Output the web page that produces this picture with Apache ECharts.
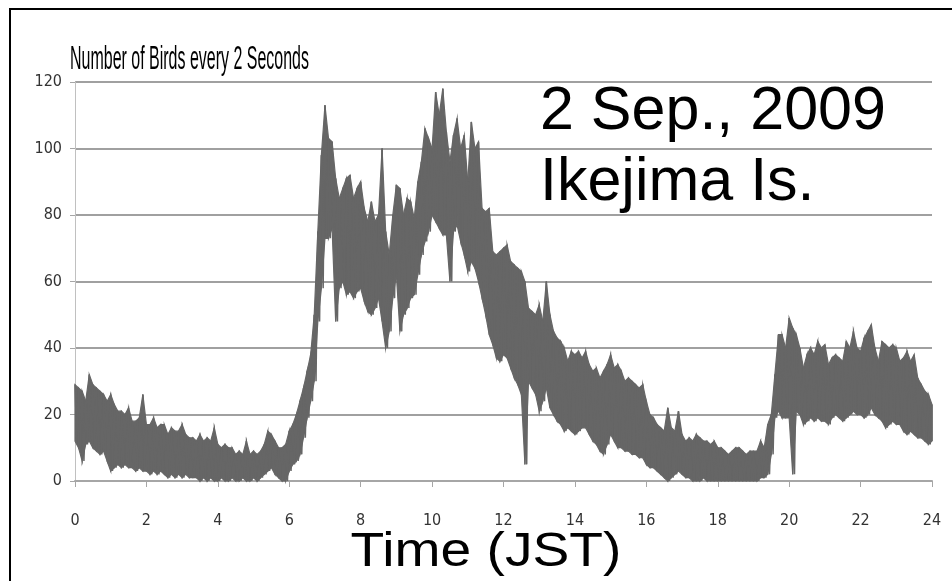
<!DOCTYPE html>
<html>
<head>
<meta charset="utf-8">
<script src="https://cdn.jsdelivr.net/npm/echarts@6/dist/echarts.min.js"></script>
<style>html,body{margin:0;padding:0;background:#fff;}#c{width:952px;height:581px;}</style>
</head>
<body>
<div id="c"></div>
<script>
// Sample times: every 0.1 h from 0 to 24 (upper & lower envelope)
const stepHours = 0.1;
const hiValues = [
  29,28,27,24,32,29,28,27,26,24,26,
  23,21,21,20,22,18,18,19,26,17,
  17,19,16,17,17,14,16,15,15,17,
  14,13,13,12,14,12,13,12,16,11,
  10,11,10,10,8,9,8,12,8,9,
  8,9,11,15,14,12,10,10,11,15,
  17,20,24,28,33,38,50,75,98,113,
  103,102,91,85,88,91,92,85,88,90,
  82,78,84,78,80,100,75,68,80,89,
  88,80,85,84,79,90,96,106,103,100,
  117,110,118,105,96,104,109,100,104,90,
  108,100,102,82,81,82,69,68,69,70,
  71,66,65,64,63,60,52,51,50,53,
  48,60,50,45,43,42,40,36,39,38,
  39,37,39,35,33,34,31,33,35,38,
  34,35,33,30,31,30,29,28,29,24,
  20,19,17,16,15,22,16,15,21,14,
  12,13,12,14,13,12,12,11,12,10,
  10,9,8,9,10,10,9,8,9,9,
  9,12,10,17,20,32,44,44,40,49,
  46,44,40,34,38,40,38,42,40,41,
  35,37,38,37,36,42,40,45,40,39,
  43,45,47,40,36,42,41,40,41,40,
  36,37,39,36,38,31,29,27,26,23
];
const loValues = [
  12,10,6,11,12,10,9,8,9,6,3,
  4,5,4,5,4,4,3,4,3,3,
  2,3,2,3,2,1,2,1,2,1,
  2,1,1,1,0,1,0,1,0,0,
  1,0,0,1,0,0,1,0,0,1,
  0,1,2,3,4,2,1,0,0,3,
  5,6,8,13,19,24,30,48,58,73,
  73,76,48,58,60,56,57,55,57,58,
  54,51,50,52,55,48,40,45,55,62,
  45,50,52,55,56,62,68,72,75,80,
  78,76,74,74,60,75,77,72,68,63,
  66,64,60,55,50,44,41,37,36,38,
  37,34,31,29,26,5,30,28,26,21,
  24,28,22,20,18,17,15,16,15,14,
  15,16,16,14,12,11,9,8,11,14,
  12,10,10,9,9,8,8,7,7,5,
  4,4,3,2,1,0,1,2,3,2,
  1,1,0,0,0,1,0,0,0,0,
  0,0,0,0,0,0,0,0,0,0,
  0,1,1,2,8,19,21,19,19,19,
  2,21,20,17,18,19,18,19,18,18,
  17,19,20,19,18,19,20,21,20,20,
  19,20,22,20,19,18,16,17,18,17,
  17,15,14,15,14,13,13,12,11,12
];
const xTickLabels = ['0','2','4','6','8','10','12','14','16','18','20','22','24'];
const yTickLabels = ['0','20','40','60','80','100','120'];
const yTitle = 'Number of Birds every 2 Seconds';
const xTitle = 'Time (JST)';
const noteLines = ['2 Sep., 2009', 'Ikejima Is.'];

// zig-zag trace: upper reading at t, lower reading half a step later
const traceData = [];
// band segments between consecutive samples: [t, lo, hi, tNext, loNext, hiNext]
const bandData = [];
for (let i = 0; i < hiValues.length; i++) {
  const t = +(i * stepHours).toFixed(2);
  traceData.push([t, hiValues[i]]);
  traceData.push([Math.min(24, +(t + stepHours / 2).toFixed(2)), loValues[i]]);
  if (i + 1 < hiValues.length) {
    const tn = +((i + 1) * stepHours).toFixed(2);
    bandData.push([t, loValues[i], hiValues[i], tn, loValues[i + 1], hiValues[i + 1]]);
  }
}

const narrow = "'Liberation Sans Narrow','DejaVu Sans Condensed','Liberation Sans',sans-serif";
const gray = '#666666';
const chart = echarts.init(document.getElementById('c'), null, {renderer: 'canvas'});
chart.setOption({
  animation: false,
  backgroundColor: '#fff',
  grid: {left: 75, right: 20, top: 82, bottom: 100},
  xAxis: {
    type: 'value', min: 0, max: 24, interval: 2,
    axisLine: {show: true, lineStyle: {color: '#a6a6a6', width: 2}},
    axisTick: {show: true, length: 6, lineStyle: {color: '#a6a6a6', width: 1}},
    splitLine: {show: false},
    axisLabel: {margin: 32, fontSize: 16, color: '#333', fontFamily: narrow,
      formatter: v => xTickLabels[Math.round(v / 2)]}
  },
  yAxis: {
    type: 'value', min: 0, max: 120, interval: 20,
    axisLine: {show: true, lineStyle: {color: '#c0c0c0', width: 1}},
    axisTick: {show: true, length: 5, lineStyle: {color: '#a6a6a6'}},
    splitLine: {show: true, lineStyle: {color: '#a0a0a0', width: 2}},
    axisLabel: {margin: 13, fontSize: 16, color: '#333', fontFamily: narrow,
      formatter: v => yTickLabels[Math.round(v / 20)]}
  },
  series: [
    {type: 'custom', name: 'band', data: bandData, silent: true, z: 2,
     encode: {x: [0, 3], y: [1, 2, 4, 5]},
     renderItem: function (params, api) {
       const p1 = api.coord([api.value(0), api.value(2)]);
       const p2 = api.coord([api.value(3), api.value(5)]);
       const p3 = api.coord([api.value(3), api.value(4)]);
       const p4 = api.coord([api.value(0), api.value(1)]);
       return {type: 'polygon', shape: {points: [p1, p2, p3, p4]},
               style: {fill: gray, stroke: gray, lineWidth: 1.2}};
     }},
    {type: 'line', name: 'birds', data: traceData, showSymbol: false, symbol: 'none',
     lineStyle: {color: gray, width: 1.5}, z: 3}
  ],
  graphic: [
    {type: 'polyline', shape: {points: [[10, 600], [10, 9], [952, 9]]},
     style: {stroke: '#000', lineWidth: 2, fill: null}, silent: true},
    {type: 'text', x: 70, y: 60, scaleX: 0.47, style: {text: yTitle, fontSize: 34,
      fontFamily: "'Liberation Sans',sans-serif", fill: '#000', align: 'left', verticalAlign: 'middle'}},
    {type: 'text', x: 486, y: 553, scaleX: 1.15, style: {text: xTitle, fontSize: 48,
      fontFamily: "'Liberation Sans',sans-serif", fill: '#000', align: 'center', verticalAlign: 'middle'}},
    {type: 'text', x: 540, y: 112, style: {text: noteLines[0], fontSize: 61,
      fontFamily: "'Liberation Sans',sans-serif", fill: '#000', align: 'left', verticalAlign: 'middle'}},
    {type: 'text', x: 540, y: 183, style: {text: noteLines[1], fontSize: 61,
      fontFamily: "'Liberation Sans',sans-serif", fill: '#000', align: 'left', verticalAlign: 'middle'}}
  ]
});
</script>
</body>
</html>
